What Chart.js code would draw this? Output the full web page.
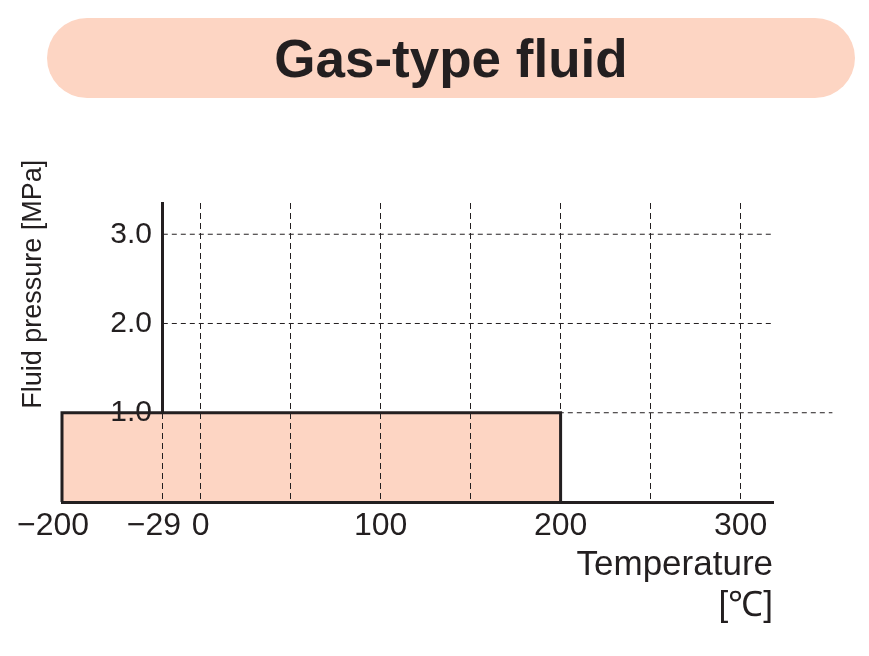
<!DOCTYPE html>
<html>
<head>
<meta charset="utf-8">
<script src="https://cdn.jsdelivr.net/npm/chart.js@4.4.0/dist/chart.umd.min.js"></script>
<style>
  html, body { margin: 0; padding: 0; background: #fff; }
  #wrap { position: relative; width: 869px; height: 656px; }
  #pill {
    position: absolute; left: 47px; top: 18px; width: 808px; height: 80px;
    border-radius: 40px; background: #fdd5c3; color: #231f20;
    font: bold 53px "Liberation Sans", Arial, sans-serif;
    text-align: center; line-height: 82px;
  }
  canvas { position: absolute; left: 0; top: 0; }
</style>
</head>
<body>
<div id="wrap">
  <div id="pill">Gas-type fluid</div>
  <canvas id="chart" width="869" height="656"></canvas>
</div>
<script>
const xTicks = [-200, -29, 0, 50, 100, 150, 200, 250, 300];
const xLabelled = [-200, -29, 0, 100, 200, 300];
const yTicks = [1, 2, 3];
const xMin = -200;
const xMax = 318;
const yMax = 3.35;

// usable range: -200 to 200 degC, up to 1.0 MPa
const rangeTemp = [-200, -200, 200, 200];
const rangePressure = [0, 1.0, 1.0, 0];
const limitPressure = 1.0;
const limitLineEnd = 351;

const dark = '#231f20';
const peach = '#fdd5c3';
const font = '"Liberation Sans", Arial, sans-serif';

// left of 0 the axis is not to scale, the negative part is squeezed
function warp(v) {
    if (v >= 0) return v;
    if (v >= -29) return v / 29 * 21;
    return -21 + (v + 29) / 171 * 56;
}
function unwarp(u) {
    if (u >= 0) return u;
    if (u >= -21) return u / 21 * 29;
    return -29 + (u + 21) / 56 * 171;
}

class BrokenScale extends Chart.LinearScale {
    getPixelForValue(value) {
        if (value === null || value === undefined) return NaN;
        const a = warp(this.min), b = warp(this.max);
        return this.getPixelForDecimal((warp(value) - a) / (b - a));
    }
    getValueForPixel(pixel) {
        const a = warp(this.min), b = warp(this.max);
        return unwarp(a + this.getDecimalForPixel(pixel) * (b - a));
    }
}
BrokenScale.id = 'broken';
BrokenScale.defaults = Chart.LinearScale.defaults;
Chart.register(BrokenScale);

function fmt(v) {
    // minus hangs left of the digits, pad right so digits stay centred
    return v < 0 ? '\u2212' + Math.abs(v) + '\u2007' : String(v);
}

const yTitle = {
    id: 'yTitle',
    afterDraw(chart) {
        const ctx = chart.ctx;
        ctx.save();
        ctx.translate(41, chart.scales.y.getPixelForValue(limitPressure) - 4);
        ctx.rotate(-Math.PI / 2);
        ctx.font = '27px ' + font;
        ctx.fillStyle = dark;
        ctx.textAlign = 'left';
        ctx.textBaseline = 'alphabetic';
        ctx.fillText('Fluid pressure [MPa]', 0, 0);
        ctx.restore();
    }
};

const gridLines = yTicks.map(v => ({
    data: [{ x: -29, y: v }, { x: v === limitPressure ? limitLineEnd : xMax, y: v }],
    borderColor: dark,
    borderWidth: 1,
    borderDash: [5, 4],
    pointRadius: 0,
    fill: false,
    clip: false,
    order: 2
}));

const ctx = document.getElementById('chart').getContext('2d');
new Chart(ctx, {
    type: 'line',
    data: {
        datasets: [{
            data: rangeTemp.map((t, i) => ({ x: t, y: rangePressure[i] })),
            borderColor: dark,
            borderWidth: 3,
            borderJoinStyle: 'miter',
            backgroundColor: peach,
            fill: 'origin',
            pointRadius: 0,
            clip: false,
            order: 1
        }, ...gridLines]
    },
    options: {
        responsive: false,
        animation: false,
        layout: { padding: { left: 62, right: 96, top: 203, bottom: 0 } },
        plugins: { legend: { display: false }, tooltip: { enabled: false } },
        scales: {
            x: {
                type: 'broken',
                min: xMin,
                max: xMax,
                afterBuildTicks: s => { s.ticks = xTicks.map(v => ({ value: v })); },
                afterFit: s => { s.height = 154; s.paddingLeft = 0; s.paddingRight = 0; },
                ticks: {
                    autoSkip: false,
                    maxRotation: 0,
                    padding: 5,
                    color: dark,
                    font: { family: font, size: 32 },
                    callback: v => xLabelled.includes(v) ? fmt(v) : ''
                },
                grid: {
                    drawTicks: false,
                    lineWidth: 1,
                    color: c => (c.tick && c.tick.value >= -29) ? dark : 'rgba(0,0,0,0)',
                    z: 1
                },
                border: { color: dark, width: 3, dash: [6, 4], z: 1 },
                title: {
                    display: true,
                    text: ['Temperature', '[\u2103]'],
                    align: 'end',
                    color: dark,
                    font: { family: font, size: 35, lineHeight: 1.15 },
                    padding: { top: 0, bottom: 30 }
                }
            },
            y: {
                position: { x: -29 },
                min: 0,
                max: yMax,
                afterBuildTicks: s => { s.ticks = yTicks.map(v => ({ value: v })); },
                ticks: {
                    color: dark,
                    font: { family: font, size: 30 },
                    // labels sit right on the axis when it is placed by value, so pad with a space
                    callback: v => v.toFixed(1) + ' \u200A',
                    z: 1
                },
                grid: { display: false, drawTicks: false },
                border: { color: dark, width: 3 }
            }
        }
    },
    plugins: [yTitle]
});
</script>
</body>
</html>
